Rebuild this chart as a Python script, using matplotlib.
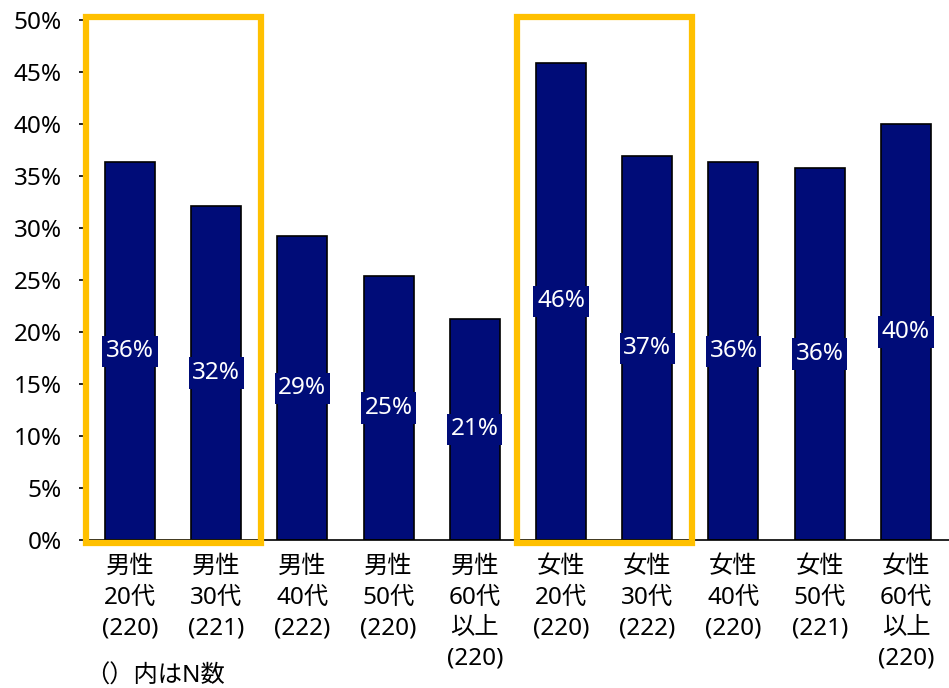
import matplotlib.pyplot as plt
from matplotlib.patches import Rectangle
from matplotlib.ticker import PercentFormatter

plt.rcParams['font.family'] = ['Noto Sans', 'Noto Sans CJK JP', 'DejaVu Sans']

# 性別・年代別の割合（%）と回答者数
groups = ['男性\n20代', '男性\n30代', '男性\n40代', '男性\n50代', '男性\n60代\n以上',
          '女性\n20代', '女性\n30代', '女性\n40代', '女性\n50代', '女性\n60代\n以上']
n_counts = [220, 221, 222, 220, 220, 220, 222, 220, 221, 220]
values = [36.3, 32.1, 29.2, 25.4, 21.3, 45.9, 36.9, 36.3, 35.8, 40.0]
highlight = [(0, 1), (5, 6)]  # 強調する範囲（開始, 終了のインデックス）

navy = '#000C78'
gold = '#FFC000'
fs = 17.5

fig = plt.figure(figsize=(9.49, 6.88), dpi=100)
ax = fig.add_axes([0.0915, 0.215, 0.9085, 0.756])

x = range(len(values))
ax.bar(x, values, width=0.58, color=navy, edgecolor='black', linewidth=1.2, zorder=2)

# 棒の中央に値ラベル
for xi, v in zip(x, values):
    ax.text(xi, v / 2, f'{v:.0f}%', ha='center', va='center', color='white', fontsize=fs,
            bbox=dict(boxstyle='square,pad=0.15', facecolor=navy, edgecolor='none'), zorder=3)

# 強調枠
for start, end in highlight:
    ax.add_patch(Rectangle((start - 0.51, -0.3), end - start + 1.03, 50.6, fill=False,
                           edgecolor=gold, linewidth=4.5, clip_on=False, zorder=4))

ax.set_xlim(-0.5, len(values) - 0.5)
ax.set_ylim(0, 50)
ax.set_yticks(range(0, 51, 5))
ax.yaxis.set_major_formatter(PercentFormatter(decimals=0))
ax.set_xticks(list(x))
ax.set_xticklabels([f'{g}\n({n})' for g, n in zip(groups, n_counts)], fontsize=fs, linespacing=1.36)
ax.tick_params(axis='x', length=0, pad=11)
ax.tick_params(axis='y', labelsize=fs, length=6, width=1.2, pad=12)

for side in ['top', 'right', 'left']:
    ax.spines[side].set_visible(False)
ax.spines['bottom'].set_linewidth(1.2)

fig.text(0.09, 0.016, '（）内はN数', fontsize=fs, ha='left', va='center')

fig.savefig('out.png', dpi=100)
